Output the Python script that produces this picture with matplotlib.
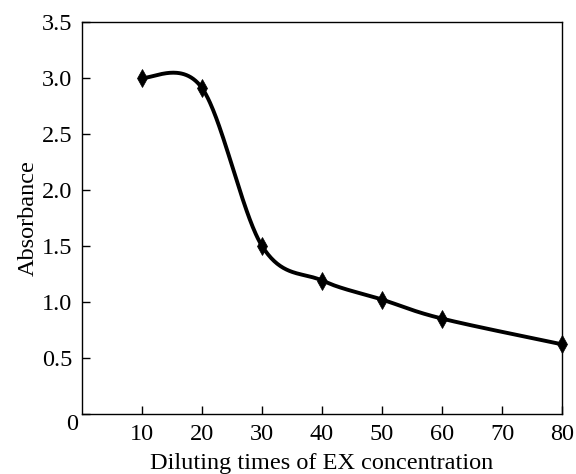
import numpy as np
import matplotlib
matplotlib.use("Agg")
import matplotlib.pyplot as plt
from matplotlib.transforms import ScaledTranslation

x_vals = [10, 20, 30, 40, 50, 60, 80]
y_vals = [3.00, 2.91, 1.50, 1.19, 1.02, 0.85, 0.62]
x_ticks = [10, 20, 30, 40, 50, 60, 70, 80]
y_ticks = [0, 0.5, 1.0, 1.5, 2.0, 2.5, 3.0, 3.5]
y_tick_labels = ["0", "0.5", "1.0", "1.5", "2.0", "2.5", "3.0", "3.5"]


def smooth_curve(x, y, n=60):
    """Catmull-Rom style Bezier smoothing (like spreadsheet 'smoothed line')."""
    P = np.column_stack([x, y]).astype(float)
    m = len(P)
    pts = []
    for i in range(m - 1):
        p0 = P[i - 1] if i > 0 else P[i]
        p1, p2 = P[i], P[i + 1]
        p3 = P[i + 2] if i + 2 < m else P[i + 1]
        c1 = p1 + (p2 - p0) / 6.0
        c2 = p2 - (p3 - p1) / 6.0
        t = np.linspace(0, 1, n)[:, None]
        seg = ((1 - t) ** 3) * p1 + 3 * ((1 - t) ** 2) * t * c1 \
            + 3 * (1 - t) * t ** 2 * c2 + t ** 3 * p2
        pts.append(seg if i == 0 else seg[1:])
    pts = np.vstack(pts)
    return pts[:, 0], pts[:, 1]


plt.rcParams['font.family'] = ['Liberation Serif', 'DejaVu Serif']
fig = plt.figure(figsize=(5.76, 4.74), dpi=100)
ax = fig.add_axes([0.142, 0.127, 0.834, 0.827])

cx, cy = smooth_curve(x_vals, y_vals)
ax.plot(cx, cy, color='black', lw=2.8, clip_on=False, solid_capstyle='round')
ax.plot(x_vals, y_vals, linestyle='none', marker='d', markersize=9,
        markeredgewidth=0.5, color='black', clip_on=False)

ax.set_xlim(0, 80)
ax.set_ylim(0, 3.5)
ax.set_xticks(x_ticks)
ax.set_yticks(y_ticks)
ax.set_yticklabels(y_tick_labels)
ax.tick_params(direction='in', length=6, width=1, labelsize=17.5, pad=7)
for s in ax.spines.values():
    s.set_linewidth(1)
ax.set_xlabel('Diluting times of EX concentration', fontsize=17.5, labelpad=6)
ax.set_ylabel('Absorbance', fontsize=17.5, labelpad=2)

# origin label "0" sits slightly lower and closer to the corner
zero_lbl = ax.get_yticklabels()[0]
zero_lbl.set_transform(zero_lbl.get_transform() +
                       ScaledTranslation(0.06, -0.08, fig.dpi_scale_trans))

fig.savefig('out.png', dpi=100)
